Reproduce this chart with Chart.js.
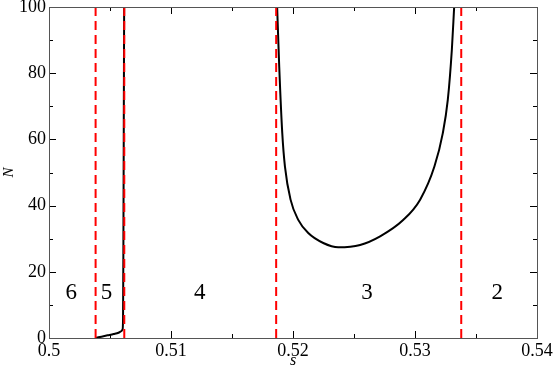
<!DOCTYPE html>
<html>
<head>
<meta charset="utf-8">
<script src="https://cdn.jsdelivr.net/npm/chart.js@4"></script>
<style>
  html, body { margin: 0; padding: 0; background: #fff; }
  #wrap { width: 554px; height: 370px; }
  #warm { position: absolute; left: 5px; top: 5px; color: transparent; font: 18px 'Liberation Serif'; }
</style>
</head>
<body>
<div id="warm">0123456789 . N <i>s</i></div>
<div id="wrap"><canvas id="mycanvas"></canvas></div>
<script>
var SERIF = "'Liberation Serif'";
Chart.defaults.font.family = SERIF;

// branch near s = 0.505 (region 5)
var branch1_s = [0.5038, 0.5043, 0.5048, 0.5053, 0.5057, 0.5059, 0.50603, 0.50607, 0.5061, 0.50613, 0.50616];
var branch1_N = [0, 0.4, 0.8, 1.2, 1.6, 2.0, 2.6, 6, 30, 65, 100];

// U-shaped branch (region 3)
var branch2_s = [0.51870, 0.51887, 0.51912, 0.51934, 0.51980, 0.52043, 0.52125, 0.52248, 0.52371, 0.52550, 0.52714, 0.52905, 0.53042, 0.53159, 0.53228, 0.53269, 0.53302, 0.53321];
var branch2_N = [100, 82.1, 61.9, 51.8, 41.8, 35.7, 31.7, 28.7, 27.4, 28.1, 30.7, 35.7, 41.8, 51.8, 61.9, 72.0, 87.1, 100];

// region boundaries (red dashed)
var boundaries = [0.50382, 0.50617, 0.51862, 0.53379];

// region labels
var regionText = ["6", "5", "4", "3", "2"];
var regionS = [0.50182, 0.50472, 0.51236, 0.52607, 0.53674];
var regionN = 13.6;

var xTicks = [0.5, 0.51, 0.52, 0.53, 0.54];
var yTicks = [0, 20, 40, 60, 80, 100];

function pts(xs, ys) {
	var out = [];
	for (var i in xs) out.push({x: xs[i], y: ys[i]});
	return out;
}

var datasets = [];
for (var i in boundaries) {
	datasets.push({
		data: [{x: boundaries[i], y: 0}, {x: boundaries[i], y: 100}],
		borderColor: "#ff0000",
		borderWidth: 2,
		borderDash: [9, 5],
		pointRadius: 0,
		showLine: true,
		fill: false
	});
}
datasets.push({
	data: pts(branch1_s, branch1_N),
	borderColor: "#000",
	borderWidth: 2,
	pointRadius: 0,
	showLine: true,
	cubicInterpolationMode: "monotone",
	fill: false
});
datasets.push({
	data: pts(branch2_s, branch2_N),
	borderColor: "#000",
	borderWidth: 2,
	pointRadius: 0,
	showLine: true,
	cubicInterpolationMode: "monotone",
	fill: false
});

// inward ticks on all four sides + region numbers
var framePlugin = {
	id: "frame",
	afterDraw: function(chart) {
		var c = chart.ctx, a = chart.chartArea;
		var xs = chart.scales.x, ys = chart.scales.y;
		c.save();
		c.strokeStyle = "#000";
		c.lineWidth = 1;
		c.beginPath();
		for (var v = 0.5; v <= 0.5401; v += 0.005) {
			var px = Math.round(xs.getPixelForValue(v)) + 0.5;
			var major = Math.abs(v * 100 - Math.round(v * 100)) < 1e-6;
			var len = major ? 7 : 4;
			c.moveTo(px, a.bottom); c.lineTo(px, a.bottom - len);
			c.moveTo(px, a.top); c.lineTo(px, a.top + len);
		}
		for (var n = 0; n <= 100; n += 10) {
			var py = Math.round(ys.getPixelForValue(n)) + 0.5;
			var len2 = (n % 20 === 0) ? 7 : 4;
			c.moveTo(a.left, py); c.lineTo(a.left + len2, py);
			c.moveTo(a.right, py); c.lineTo(a.right - len2, py);
		}
		c.stroke();
		c.strokeStyle = "#555";
		c.strokeRect(Math.round(a.left) + 0.5, Math.round(a.top) + 0.5, Math.round(a.right - a.left), Math.round(a.bottom - a.top));

		c.fillStyle = "#000";
		c.font = "23px " + SERIF;
		c.textAlign = "center";
		c.textBaseline = "middle";
		for (var k in regionText) {
			c.fillText(regionText[k], xs.getPixelForValue(regionS[k]), ys.getPixelForValue(regionN));
		}
		c.restore();
	}
};

var ctx = document.getElementById("mycanvas");
var chart = new Chart(ctx, {
	type: "scatter",
	data: {datasets: datasets},
	options: {
		responsive: true,
		maintainAspectRatio: false,
		animation: false,
		layout: {padding: {top: 7, right: 17, left: 0, bottom: 0}},
		plugins: {legend: {display: false}, tooltip: {enabled: false}},
		scales: {
			x: {
				type: "linear",
				min: 0.5,
				max: 0.54,
				afterBuildTicks: function(s) { s.ticks = xTicks.map(function(v) { return {value: v}; }); },
				afterFit: function(s) { s.height = 32; s.paddingLeft = 0; s.paddingRight = 0; },
				grid: {display: false, drawTicks: false},
				border: {display: false},
				ticks: {
					color: "#000",
					padding: 2,
					maxRotation: 0,
					font: {family: SERIF, size: 18},
					callback: function(v) { return String(+v.toFixed(2)); }
				},
				title: {
					display: true,
					text: "s",
					color: "#000",
					padding: {top: -2, bottom: 0},
					font: {family: SERIF, size: 16, style: "italic"}
				}
			},
			y: {
				type: "linear",
				min: 0,
				max: 100,
				afterBuildTicks: function(s) { s.ticks = yTicks.map(function(v) { return {value: v}; }); },
				afterFit: function(s) { s.width = 49; s.paddingTop = 0; s.paddingBottom = 0; },
				grid: {display: false, drawTicks: false},
				border: {display: false},
				ticks: {
					color: "#000",
					padding: 3,
					font: {family: SERIF, size: 18}
				},
				title: {
					display: true,
					text: "N",
					color: "#000",
					padding: 0,
					font: {family: SERIF, size: 15, style: "italic"}
				}
			}
		}
	},
	plugins: [framePlugin]
});

// redraw once the system font is surely in use
setTimeout(function() { chart.update(); }, 150);
</script>
</body>
</html>
